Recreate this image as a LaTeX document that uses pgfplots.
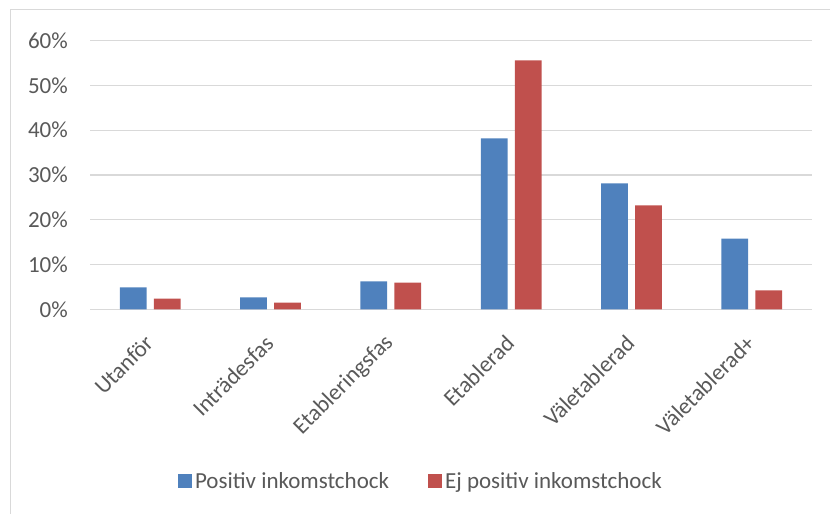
\documentclass[border=0pt]{standalone}
\usepackage{pgfplots}
\pgfplotsset{compat=1.18}
\usepackage{fontspec}
\setmainfont{Carlito}
\definecolor{cblue}{HTML}{4F81BD}
\definecolor{cred}{HTML}{C0504D}
\definecolor{ctext}{HTML}{595959}
\definecolor{cgrid}{HTML}{D9D9D9}
\newcommand{\cf}{\fontsize{23bp}{27bp}\selectfont}
\begin{document}
\begin{tikzpicture}[x=1bp,y=1bp]
\useasboundingbox (0,0) rectangle (830,514);
\draw[cgrid, line width=1bp] (10,0) -- (10,504) -- (830,504);
\begin{axis}[
  at={(90bp,204.7bp)}, anchor=south west,
  scale only axis, width=722bp, height=268.6bp,
  ybar=7.3bp, bar width=26.7bp,
  xmin=-0.5, xmax=5.5, ymin=0, ymax=60,
  xtick=data,
  xticklabels={Utanför,Inträdesfas,Etableringsfas,Etablerad,Väletablerad,Väletablerad+},
  ytick={0,10,...,60},
  yticklabel={\pgfmathprintnumber{\tick}\%},
  /pgf/number format/assume math mode=true,
  major tick length=0pt,
  axis line style={draw=none},
  ymajorgrids, grid style={cgrid, line width=1.3bp},
  tick label style={font=\cf, text=ctext},
  yticklabel style={inner sep=0pt, xshift=-22bp},
  xticklabel style={xshift=-1bp, yshift=-30bp, rotate=45, anchor=east, inner sep=0pt},
  legend style={at={(0.459,-0.639)}, anchor=center, draw=none, font=\cf, text=ctext,
    legend columns=2, /tikz/every even column/.append style={column sep=36bp},
    nodes={inner xsep=3bp}},
  legend image code/.code={\fill[#1] (0bp,-7bp) rectangle (14bp,7bp);},
  clip=false,
]
\addplot[fill=cblue, draw=none] coordinates {(0,4.9) (1,2.65) (2,6.25) (3,38.2) (4,28.1) (5,15.8)};
\addplot[fill=cred, draw=none] coordinates {(0,2.4) (1,1.5) (2,5.95) (3,55.6) (4,23.2) (5,4.2)};
\legend{Positiv inkomstchock, Ej positiv inkomstchock}
\end{axis}
\end{tikzpicture}
\end{document}
